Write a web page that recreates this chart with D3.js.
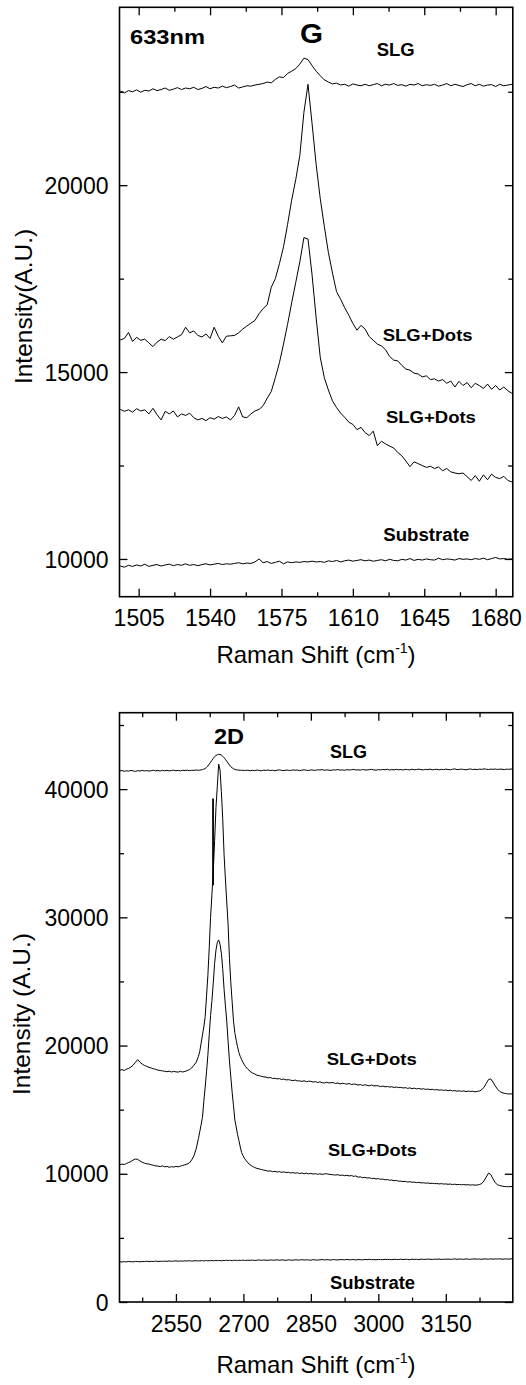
<!DOCTYPE html>
<html>
<head>
<meta charset="utf-8">
<script src="https://cdn.jsdelivr.net/npm/d3@7/dist/d3.min.js"></script>
<style>
  body { margin: 0; background: #fff; }
  text { font-family: "Liberation Sans", Arial, Helvetica, sans-serif; }
</style>
</head>
<body>
<svg id="chart" width="526" height="1385"></svg>
<script>
// ---------- G band (633 nm excitation) ----------
const shiftG = [
  1496,1498,1500,1502,1504,1506,1508,1510,1512,1514,
  1516,1518,1520,1522,1524,1526,1528,1530,1532,1534,
  1536,1538,1540,1542,1544,1546,1548,1550,1552,1554,
  1556,1558,1560,1562,1564,1566,1568,1570,1572,1574,
  1576,1578,1580,1582,1584,1586,1588,1590,1592,1594,
  1596,1598,1600,1602,1604,1606,1608,1610,1612,1614,
  1616,1618,1620,1622,1624,1626,1628,1630,1632,1634,
  1636,1638,1640,1642,1644,1646,1648,1650,1652,1654,
  1656,1658,1660,1662,1664,1666,1668,1670,1672,1674,
  1676,1678,1680,1682,1684,1686,1688
];
const slgG = [
  22520,22470,22530,22500,22550,22490,22540,22520,22580,22530,
  22560,22600,22540,22570,22610,22560,22600,22580,22620,22560,
  22590,22640,22580,22620,22600,22650,22610,22640,22680,22600,
  22630,22660,22650,22680,22700,22720,22760,22740,22830,22900,
  22880,22990,23050,23120,23240,23400,23360,23200,23050,22930,
  22820,22760,22710,22730,22680,22700,22650,22710,22680,22660,
  22700,22660,22690,22720,22660,22700,22680,22720,22670,22690,
  22650,22700,22680,22720,22660,22690,22670,22700,22650,22680,
  22720,22660,22700,22670,22640,22690,22720,22660,22700,22650,
  22680,22690,22640,22700,22660,22680,22700
];
const dotsG1 = [
  15860,15900,16060,15820,15930,15850,15880,15780,15680,15800,
  15880,15840,15950,15880,15940,16000,16200,16050,16100,15980,
  15940,16020,15900,16200,15960,15780,15960,15970,15980,16050,
  16150,16230,16310,16380,16560,16700,16800,17270,17500,17900,
  18350,18950,19600,20150,20800,21950,22700,21650,20550,19650,
  18900,18200,17650,17150,16950,16720,16520,16300,16120,16250,
  16150,15950,15850,15750,15700,15600,15420,15320,15300,15180,
  15080,15050,14970,14950,14870,14900,14800,14820,14760,14800,
  14700,14760,14600,14750,14640,14720,14580,14700,14640,14560,
  14680,14540,14640,14520,14600,14500,14430
];
const dotsG2 = [
  14000,13950,13990,13930,14020,13960,13990,13880,14030,13860,
  13720,13950,13880,13960,13800,13880,13840,13900,13780,13720,
  13760,13700,13780,13740,13810,13760,13800,13720,13840,14070,
  13800,13780,13880,13960,14000,14100,14300,14480,14850,15250,
  15750,16280,16850,17400,17950,18600,18560,17600,16450,15400,
  14850,14520,14230,14050,13900,13790,13660,13600,13460,13520,
  13380,13300,13420,13030,13150,13080,13020,12970,12850,12760,
  12620,12470,12600,12550,12500,12450,12480,12420,12460,12360,
  12420,12330,12300,12280,12300,12200,12100,12230,12080,12250,
  12120,12270,12180,12150,12210,12100,12060
];
const substrateG = [
  9810,9780,9830,9800,9840,9810,9860,9800,9830,9850,
  9810,9840,9860,9820,9850,9830,9870,9830,9850,9820,
  9850,9870,9840,9860,9880,9850,9870,9860,9880,9900,
  9870,9890,9880,9920,10000,9900,9930,9880,9910,9940,
  9870,9920,9900,9920,9910,9930,9920,9940,9920,9930,
  9910,9950,9930,9960,9920,9950,9970,9940,9960,9980,
  9950,9970,9940,9960,9980,9950,9990,9960,9950,9990,
  9970,10010,9960,9990,9970,10000,9980,9970,10020,9980,
  10000,9990,9970,10010,9990,10000,9980,10010,9990,10020,
  9980,10010,10040,10000,10010,9990,10000
];
const xTicksG = [1505, 1540, 1575, 1610, 1645, 1680];
const xMinorG = [1522.5, 1557.5, 1592.5, 1627.5, 1662.5];
const yTicksG = [10000, 15000, 20000];
const yMinorG = [12500, 17500, 22500];

// ---------- 2D band ----------
const shift2D = [
  2425,2430,2435,2440,2445,2450,2455,2460,2465,2470,
  2475,2480,2485,2490,2495,2500,2505,2510,2515,2520,
  2525,2530,2535,2540,2545,2550,2555,2560,2565,2570,
  2575,2580,2585,2590,2595,2600,
  2603,2606,2609,2612,2615,2618,2621,2624,2627,2630,
  2633,2636,2639,2642,2645,2648,2651,2654,2657,2660,
  2663,2666,2669,2672,2675,2678,2681,2684,2687,2690,
  2693,2696,2699,2702,
  2705,2710,2715,2720,2725,2730,2735,2740,2745,2750,
  2755,2760,2765,2770,2775,2780,2785,2790,2795,2800,
  2805,2810,2815,2820,2825,2830,2835,2840,2845,2850,
  2855,2860,2865,2870,2875,2880,2885,2890,2895,2900,
  2905,2910,2915,2920,2925,2930,2935,2940,2945,2950,
  2955,2960,2965,2970,2975,2980,2985,2990,2995,3000,
  3005,3010,3015,3020,3025,3030,3035,3040,3045,3050,
  3055,3060,3065,3070,3075,3080,3085,3090,3095,3100,
  3105,3110,3115,3120,3125,3130,3135,3140,3145,3150,
  3155,3160,3165,3170,3175,3180,3185,3190,3195,3200,
  3205,3210,3215,3220,3225,3230,3235,3240,3245,3250,
  3255,3260,3265,3270,3275,3280,3285,3290,3295,3300
];
const slg2D = [
  41410,41450,41390,41430,41400,41460,41420,41380,41440,41410,
  41460,41420,41450,41400,41440,41470,41420,41450,41410,41460,
  41430,41470,41420,41450,41480,41430,41460,41420,41470,41450,
  41480,41440,41470,41460,41490,41470,
  41480,41500,41530,41560,41610,41700,41800,41950,42100,42250,
  42400,42530,42620,42680,42710,42700,42650,42560,42450,42320,
  42180,42030,41880,41750,41660,41590,41540,41510,41490,41480,
  41470,41470,41460,41460,
  41450,41480,41430,41470,41440,41490,41450,41430,41480,41460,
  41490,41450,41470,41430,41480,41500,41460,41440,41490,41470,
  41450,41500,41470,41490,41440,41480,41510,41470,41450,41500,
  41480,41460,41510,41490,41520,41470,41500,41480,41460,41510,
  41490,41530,41480,41500,41470,41520,41490,41510,41540,41490,
  41510,41480,41530,41500,41490,41520,41540,41500,41480,41520,
  41500,41530,41510,41550,41490,41520,41500,41540,41510,41530,
  41490,41540,41520,41500,41550,41510,41530,41560,41520,41500,
  41540,41520,41560,41510,41530,41550,41500,41540,41520,41560,
  41530,41510,41550,41580,41520,41540,41560,41530,41510,41550,
  41570,41530,41550,41520,41560,41540,41580,41550,41530,41560,
  41540,41570,41530,41560,41550,41520,41560,41540,41570,41550
];
const dots2D1 = [
  18080,18120,18060,18150,18220,18330,18480,18700,18900,18700,
  18560,18450,18380,18300,18250,18180,18150,18080,18060,18020,
  18000,17960,18000,17940,17980,17950,17930,17990,17940,17980,
  18050,18120,18250,18470,18700,19150,
  19550,20190,20820,21450,22250,23850,25450,27620,30000,31790,
  33580,35970,38570,40230,41950,41500,39800,37700,34900,33000,
  31200,29400,26800,24900,23400,21900,21000,20400,19900,19450,
  19150,18900,18700,18500,
  18350,18150,17990,17860,17780,17690,17650,17600,17560,17540,
  17480,17510,17430,17450,17400,17420,17350,17390,17320,17340,
  17300,17260,17310,17240,17250,17200,17260,17180,17220,17210,
  17150,17190,17120,17170,17110,17080,17140,17090,17100,17110,
  17040,17080,17010,17060,17030,16990,17040,16960,17000,16980,
  16920,16960,16890,16940,16900,16860,16920,16850,16870,16860,
  16800,16840,16780,16810,16760,16790,16730,16770,16720,16740,
  16690,16720,16660,16700,16640,16680,16620,16660,16600,16630,
  16580,16610,16560,16590,16540,16570,16520,16550,16500,16530,
  16480,16520,16460,16490,16440,16470,16430,16460,16410,16450,
  16420,16440,16390,16430,16460,16560,16750,17050,17350,17400,
  17150,16850,16600,16420,16330,16280,16250,16220,16240,16190
];
const dots2D2 = [
  10700,10760,10720,10800,10880,10960,11080,11150,11120,11000,
  10900,10830,10780,10760,10700,10660,10620,10600,10560,10620,
  10540,10580,10500,10560,10520,10580,10540,10600,10650,10700,
  10760,10850,11080,11400,11950,12750,
  13280,13840,14400,15650,16750,17950,19250,20850,22350,23500,
  24870,26400,27450,28050,28240,27900,27200,26000,24400,23100,
  21900,20300,18800,17550,16350,15300,14200,13650,13050,12600,
  12100,11650,11420,11220,
  11080,10850,10700,10580,10490,10420,10380,10330,10290,10250,
  10200,10230,10160,10190,10140,10170,10110,10150,10090,10120,
  10060,10100,10040,10080,10020,10060,10000,10050,9990,10030,
  9980,10010,9960,10000,9950,9990,10000,9960,9940,9920,
  9900,9930,9870,9900,9850,9880,9830,9860,9800,9830,
  9740,9760,9700,9720,9670,9690,9630,9650,9600,9620,
  9570,9590,9530,9550,9500,9510,9460,9480,9420,9430,
  9390,9410,9360,9380,9340,9350,9310,9330,9290,9300,
  9270,9280,9250,9260,9230,9240,9210,9230,9200,9210,
  9180,9200,9160,9190,9150,9170,9140,9160,9130,9150,
  9120,9140,9110,9130,9160,9240,9450,9750,10050,9950,
  9600,9300,9150,9080,9040,9010,9000,8990,9010,8980
];
const substrate2D = [
  3140,3120,3150,3130,3160,3140,3130,3170,3150,3140,
  3160,3150,3180,3150,3170,3160,3190,3160,3180,3170,
  3190,3170,3200,3180,3190,3210,3180,3200,3190,3210,
  3200,3220,3190,3210,3220,3200,
  3220,3210,3230,3200,3220,3240,3210,3230,3220,3240,
  3210,3230,3250,3220,3240,3230,3210,3250,3230,3240,
  3260,3230,3250,3240,3220,3260,3240,3250,3230,3260,
  3250,3240,3270,3250,
  3240,3260,3250,3270,3240,3260,3280,3250,3270,3260,
  3250,3280,3260,3270,3290,3260,3280,3270,3250,3290,
  3270,3260,3290,3280,3270,3300,3270,3290,3280,3260,
  3300,3280,3270,3290,3310,3280,3300,3290,3270,3310,
  3290,3280,3310,3300,3290,3320,3290,3300,3310,3280,
  3310,3300,3290,3320,3300,3330,3300,3310,3290,3320,
  3310,3300,3330,3310,3320,3300,3330,3320,3310,3340,
  3310,3330,3320,3300,3340,3320,3330,3310,3340,3330,
  3320,3350,3330,3320,3340,3330,3350,3320,3340,3330,
  3350,3330,3340,3360,3330,3350,3340,3330,3360,3340,
  3330,3350,3360,3340,3350,3330,3360,3350,3340,3360,
  3340,3360,3350,3370,3340,3350,3360,3340,3370,3350
];
// narrow spike on the rising edge of the SLG+Dots 2D band
const spikeShift = [2632.5, 2632.5];
const spikeCounts = [32500, 39260];

const xTicks2D = [2550, 2700, 2850, 3000, 3150];
const xMinor2D = [2475, 2625, 2775, 2925, 3075, 3225];
const yTicks2D = [0, 10000, 20000, 30000, 40000];
const yMinor2D = [5000, 15000, 25000, 35000, 45000];

// ---------- drawing ----------
const svg = d3.select("#chart");
const FONT = '"Liberation Sans", Arial, Helvetica, sans-serif';

function drawPanel(p) {
  const x = d3.scaleLinear().domain(p.xDomain).range([p.left, p.right]);
  const y = d3.scaleLinear().domain(p.yDomain).range([p.bottom, p.top]);
  const g = svg.append("g");

  g.append("clipPath").attr("id", p.id + "-clip")
    .append("rect")
    .attr("x", p.left).attr("y", p.top)
    .attr("width", p.right - p.left).attr("height", p.bottom - p.top);

  const line = d3.line().x(d => x(d[0])).y(d => y(d[1]));
  const plot = g.append("g").attr("clip-path", `url(#${p.id}-clip)`);
  p.series.forEach(s => {
    plot.append("path")
      .datum(d3.zip(s.x, s.y))
      .attr("d", line)
      .attr("fill", "none")
      .attr("stroke", "#000")
      .attr("stroke-width", s.width || 1)
      .attr("stroke-linejoin", "round");
  });

  const clean = sel => {
    sel.select(".domain").remove();
    sel.selectAll("line").attr("stroke", "#000").attr("stroke-width", 1.3);
    sel.attr("font-family", FONT).attr("font-size", 23);
    sel.selectAll("text").attr("fill", "#000");
  };

  // bottom axis with labels
  g.append("g").attr("transform", `translate(0,${p.bottom})`)
    .call(d3.axisBottom(x).tickValues(p.xTicks).tickSize(-8).tickFormat(d3.format("d")))
    .call(clean)
    .call(a => a.selectAll("text").attr("dy", null).attr("y", p.xLabelOffset));
  g.append("g").attr("transform", `translate(0,${p.bottom})`)
    .call(d3.axisBottom(x).tickValues(p.xMinor).tickSize(-4.5).tickFormat(""))
    .call(clean);
  // top axis (ticks only)
  g.append("g").attr("transform", `translate(0,${p.top})`)
    .call(d3.axisTop(x).tickValues(p.xTicks).tickSize(-8).tickFormat(""))
    .call(clean);
  g.append("g").attr("transform", `translate(0,${p.top})`)
    .call(d3.axisTop(x).tickValues(p.xMinor).tickSize(-4.5).tickFormat(""))
    .call(clean);
  // left axis with labels
  g.append("g").attr("transform", `translate(${p.left},0)`)
    .call(d3.axisLeft(y).tickValues(p.yTicks).tickSize(-8).tickPadding(11).tickFormat(d3.format("d")))
    .call(clean)
    .call(a => a.selectAll("text").attr("dy", "0.35em"));
  g.append("g").attr("transform", `translate(${p.left},0)`)
    .call(d3.axisLeft(y).tickValues(p.yMinor).tickSize(-4.5).tickFormat(""))
    .call(clean);
  // right axis (ticks only)
  g.append("g").attr("transform", `translate(${p.right},0)`)
    .call(d3.axisRight(y).tickValues(p.yTicks).tickSize(-8).tickFormat(""))
    .call(clean);
  g.append("g").attr("transform", `translate(${p.right},0)`)
    .call(d3.axisRight(y).tickValues(p.yMinor).tickSize(-4.5).tickFormat(""))
    .call(clean);

  // frame
  g.append("rect")
    .attr("x", p.left).attr("y", p.top)
    .attr("width", p.right - p.left).attr("height", p.bottom - p.top)
    .attr("fill", "none").attr("stroke", "#000").attr("stroke-width", 1.6);

  // in-plot annotations
  p.notes.forEach(n => {
    g.append("text")
      .attr("x", x(n.at[0])).attr("y", y(n.at[1]))
      .attr("font-family", FONT).attr("font-weight", "bold")
      .attr("font-size", n.size)
      .attr("textLength", n.len).attr("lengthAdjust", "spacingAndGlyphs")
      .attr("fill", "#000")
      .text(n.text);
  });

  // x title with superscript
  const xt = g.append("text")
    .attr("x", p.xTitle[0]).attr("y", p.xTitle[1])
    .attr("text-anchor", "middle")
    .attr("font-family", FONT).attr("font-size", 24).attr("fill", "#000");
  xt.append("tspan").text("Raman Shift (cm");
  xt.append("tspan").attr("font-size", 14).attr("dy", -10).text("-1");
  xt.append("tspan").attr("dy", 10).text(")");

  // y title
  g.append("text")
    .attr("transform", `translate(${p.yTitle[0]},${p.yTitle[1]}) rotate(-90)`)
    .attr("text-anchor", "middle")
    .attr("font-family", FONT).attr("font-size", 24.5).attr("fill", "#000")
    .text(p.yTitleText);
}

drawPanel({
  id: "gband",
  left: 119.5, right: 512.8, top: 7.3, bottom: 596.7,
  xDomain: [1495.6, 1688.4], yDomain: [8990, 24760],
  xTicks: xTicksG, xMinor: xMinorG, yTicks: yTicksG, yMinor: yMinorG,
  xLabelOffset: 29,
  series: [
    { x: shiftG, y: slgG },
    { x: shiftG, y: dotsG1 },
    { x: shiftG, y: dotsG2 },
    { x: shiftG, y: substrateG }
  ],
  notes: [
    { text: "633nm", at: [1500.75, 23778], size: 21, len: 75 },
    { text: "G", at: [1584.1, 23797], size: 27, len: 23 },
    { text: "SLG", at: [1621.7, 23457], size: 18, len: 38 },
    { text: "SLG+Dots", at: [1624.6, 15840], size: 17, len: 90 },
    { text: "SLG+Dots", at: [1626.2, 13646], size: 17, len: 90 },
    { text: "Substrate", at: [1624.9, 10488], size: 17.5, len: 86 }
  ],
  xTitle: [316, 663],
  yTitle: [31.5, 306.5],
  yTitleText: "Intensity(A.U.)"
});

drawPanel({
  id: "twod",
  left: 119.5, right: 512.8, top: 712.7, bottom: 1302,
  xDomain: [2424.5, 3299], yDomain: [0, 45960],
  xTicks: xTicks2D, xMinor: xMinor2D, yTicks: yTicks2D, yMinor: yMinor2D,
  xLabelOffset: 29.7,
  series: [
    { x: shift2D, y: slg2D },
    { x: shift2D, y: dots2D1 },
    { x: shift2D, y: dots2D2 },
    { x: shift2D, y: substrate2D },
    { x: spikeShift, y: spikeCounts, width: 1.8 }
  ],
  notes: [
    { text: "2D", at: [2634.6, 43519], size: 22.5, len: 30 },
    { text: "SLG", at: [2892.6, 42404], size: 18, len: 37 },
    { text: "SLG+Dots", at: [2885.2, 18484], size: 17, len: 90 },
    { text: "SLG+Dots", at: [2888.1, 11410], size: 17, len: 89 },
    { text: "Substrate", at: [2892.6, 990], size: 17.5, len: 85 }
  ],
  xTitle: [316, 1372.5],
  yTitle: [30, 1014],
  yTitleText: "Intensity (A.U.)"
});
</script>
</body>
</html>
